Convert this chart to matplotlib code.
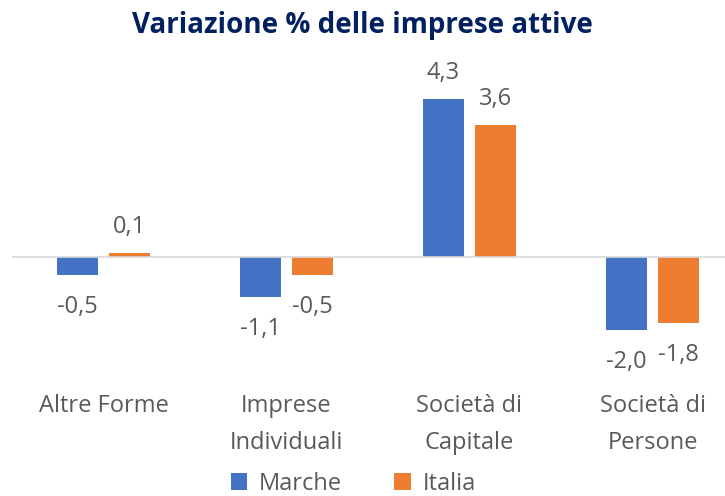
import matplotlib.pyplot as plt
import numpy as np

categories = ["Altre Forme", "Imprese\nIndividuali", "Società di\nCapitale", "Società di\nPersone"]
marche = [-0.5, -1.1, 4.3, -2.0]
italia = [0.1, -0.5, 3.6, -1.8]
series_names = ["Marche", "Italia"]

BLUE = "#4472C4"
ORANGE = "#ED7D31"
GREY = "#595959"

plt.rcParams['font.family'] = ['Open Sans', 'DejaVu Sans']

W, H = 725, 496
fig = plt.figure(figsize=(W / 100, H / 100), dpi=100)
# axes in pixel coords: left 12, right 744 (cropped), top 60, bottom 380
left, right, top, bottom = 12, 744, 60, 380
ax = fig.add_axes([left / W, 1 - bottom / H, (right - left) / W, (bottom - top) / H])

x = np.arange(len(categories))
width = 0.224
off = 0.142
b1 = ax.bar(x - off, marche, width, color=BLUE, label=series_names[0])
b2 = ax.bar(x + off, italia, width, color=ORANGE, label=series_names[1])

ax.set_xlim(-0.5, len(categories) - 0.5)
zero_px = 257
unit = 36.7
ax.set_ylim(-(bottom - zero_px) / unit, (zero_px - top) / unit)

for bars in (b1, b2):
    for r in bars:
        v = r.get_height()
        txt = f"{v:.1f}".replace(".", ",")
        dy = 26 if v >= 0 else -32
        ax.annotate(txt, (r.get_x() + r.get_width() / 2, v), xytext=(0, dy * 0.72),
                    textcoords="offset points", ha="center", va="center",
                    fontsize=17, color=GREY)

ax.axhline(0, color="#D9D9D9", lw=1.2)
for s in ax.spines.values():
    s.set_visible(False)
ax.set_yticks([])
ax.set_xticks(x)
ax.set_xticklabels(categories, fontsize=17, color=GREY, linespacing=1.75)
ax.tick_params(axis="x", length=0, pad=10)

fig.text(362 / W, 1 - 26 / H, "Variazione % delle imprese attive", ha="center", va="center",
         fontsize=20, fontweight="bold", color="#002060")

fig.legend(loc="center", bbox_to_anchor=(0.487, 1 - 484 / H), ncol=2, frameon=False,
           fontsize=17, labelcolor=GREY, handlelength=0.7, handleheight=0.7,
           handletextpad=0.5, columnspacing=2.2)

fig.savefig("out.png", dpi=100)
